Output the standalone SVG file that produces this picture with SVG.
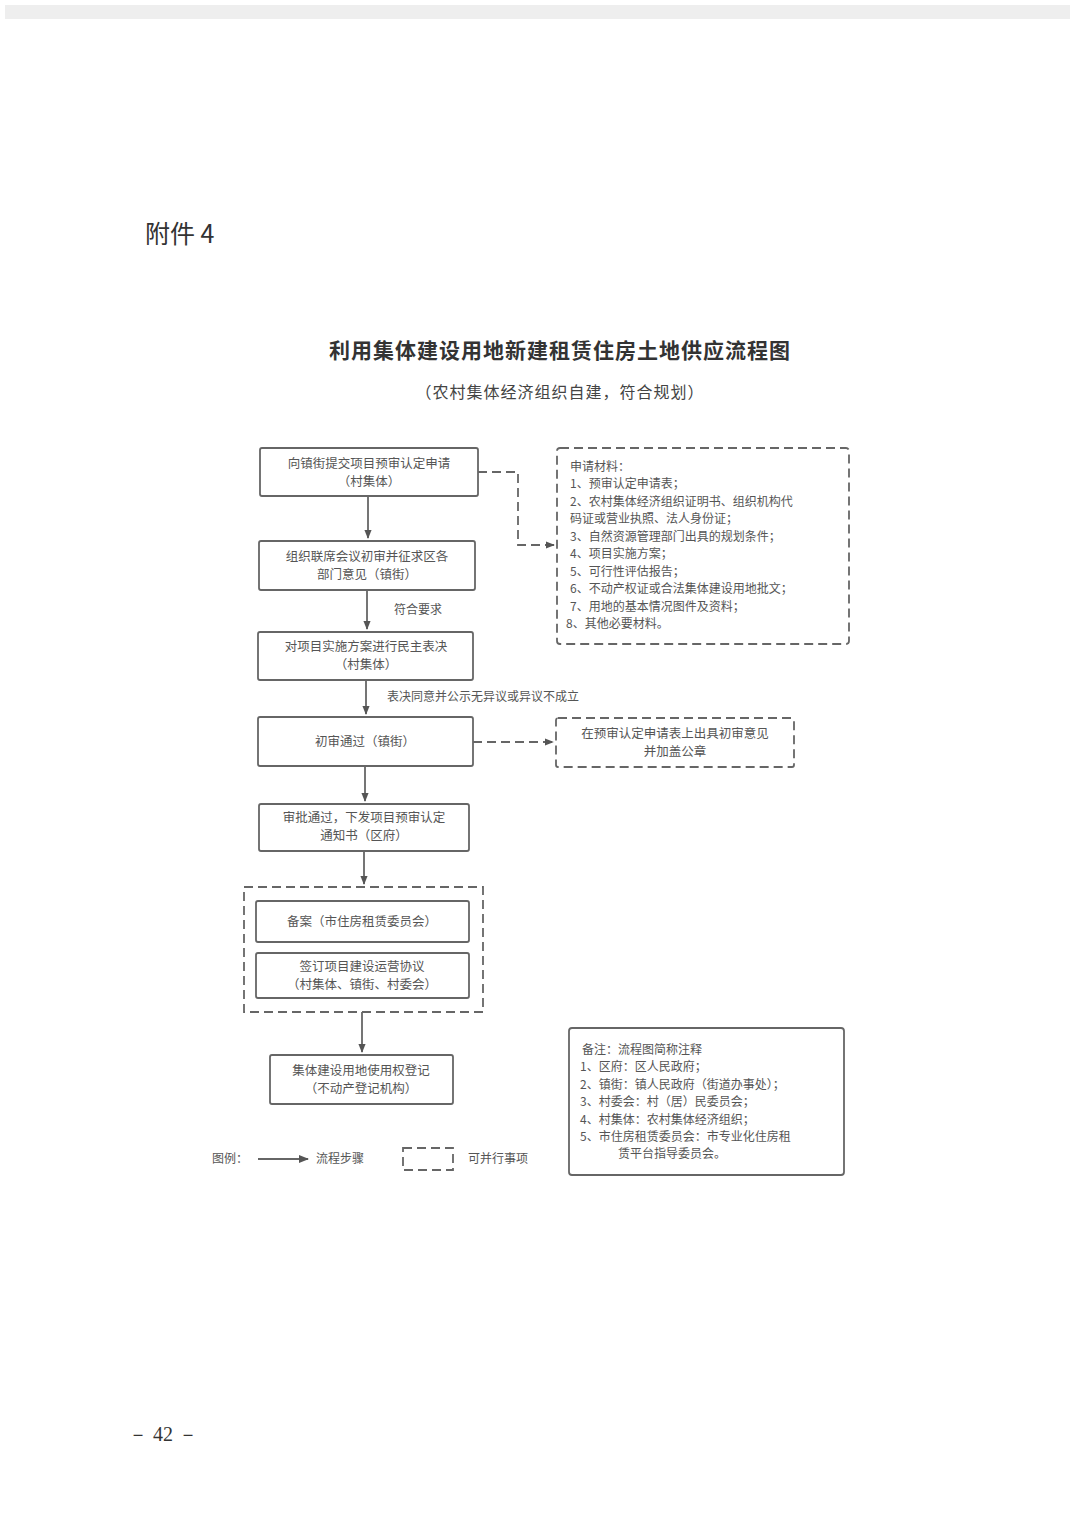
<svg xmlns="http://www.w3.org/2000/svg" width="1080" height="1528" viewBox="0 0 1080 1528">
<defs>
<marker id="ar" viewBox="0 0 10 10" refX="9" refY="5" markerWidth="9" markerHeight="9" orient="auto" markerUnits="userSpaceOnUse"><path d="M0,1 L10,5 L0,9 z" fill="#555"/></marker>
<marker id="ar2" viewBox="0 0 10 10" refX="9" refY="5" markerWidth="14" markerHeight="10" orient="auto" markerUnits="userSpaceOnUse"><path d="M0,1 L10,5 L0,9 z" fill="#555"/></marker>
</defs>
<style>
text{font-family:"Noto Sans CJK SC","Liberation Sans",sans-serif;fill:#555}
.t{font-size:12.5px;text-anchor:middle}
.l{font-size:12px}
.b{fill:#fff;stroke:#666;stroke-width:1.8}
.d{fill:none;stroke:#666;stroke-width:1.8;stroke-dasharray:9,5}
.c{fill:none;stroke:#666;stroke-width:1.8}
</style>
<rect width="1080" height="1528" fill="#fff"/>
<rect x="5" y="5" width="1065" height="14" fill="#eee"/>
<text x="145" y="243" style="font-size:25px;fill:#333">附件 4</text>
<text x="560" y="358" style="font-size:21px;font-weight:bold;text-anchor:middle;fill:#333;letter-spacing:1px">利用集体建设用地新建租赁住房土地供应流程图</text>
<text x="560" y="398" style="font-size:16px;text-anchor:middle;fill:#444;letter-spacing:1px">（农村集体经济组织自建，符合规划）</text>

<g id="connectors">
<path class="c" d="M368,496 V538" marker-end="url(#ar)"/>
<path class="c" d="M367,590 V629" marker-end="url(#ar)"/>
<path class="c" d="M366,680 V714" marker-end="url(#ar)"/>
<path class="c" d="M365,766 V801" marker-end="url(#ar)"/>
<path class="c" d="M364,851 V884" marker-end="url(#ar)"/>
<path class="c" d="M362,1012 V1052" marker-end="url(#ar)"/>
<path class="d" d="M478,472 H518 V545 H554" marker-end="url(#ar)"/>
<path class="d" d="M473,742 H553" marker-end="url(#ar)"/>
<text class="l" x="394" y="614">符合要求</text>
<text class="l" x="387" y="701">表决同意并公示无异议或异议不成立</text>
</g>

<g id="n1"><rect class="b" x="260" y="448" width="218" height="48" rx="2"/><text class="t" x="369" y="468">向镇街提交项目预审认定申请</text><text class="t" x="369" y="486">（村集体）</text></g>
<g id="n2"><rect class="b" x="259" y="541" width="216" height="49" rx="2"/><text class="t" x="367" y="561">组织联席会议初审并征求区各</text><text class="t" x="367" y="579">部门意见（镇街）</text></g>
<g id="n3"><rect class="b" x="258" y="632" width="215" height="48" rx="2"/><text class="t" x="366" y="651">对项目实施方案进行民主表决</text><text class="t" x="366" y="669">（村集体）</text></g>
<g id="n4"><rect class="b" x="258" y="717" width="215" height="49" rx="2"/><text class="t" x="365" y="746">初审通过（镇街）</text></g>
<g id="n5"><rect class="b" x="259" y="804" width="210" height="47" rx="2"/><text class="t" x="364" y="822">审批通过，下发项目预审认定</text><text class="t" x="364" y="840">通知书（区府）</text></g>
<g id="g1"><rect class="d" x="244" y="887" width="239" height="125"/>
<rect class="b" x="256" y="901" width="213" height="41" rx="2"/><text class="t" x="362" y="926">备案（市住房租赁委员会）</text>
<rect class="b" x="256" y="953" width="213" height="45" rx="2"/><text class="t" x="362" y="971">签订项目建设运营协议</text><text class="t" x="362" y="989">（村集体、镇街、村委会）</text></g>
<g id="n6"><rect class="b" x="270" y="1055" width="183" height="49" rx="2"/><text class="t" x="361" y="1075">集体建设用地使用权登记</text><text class="t" x="361" y="1093">（不动产登记机构）</text></g>

<g id="materials"><rect class="d" x="557" y="448" width="292" height="196" rx="3"/>
<text class="l" x="570" y="471">申请材料：</text>
<text class="l" x="570" y="488">1、预审认定申请表；</text>
<text class="l" x="570" y="506">2、农村集体经济组织证明书、组织机构代</text>
<text class="l" x="570" y="523">码证或营业执照、法人身份证；</text>
<text class="l" x="570" y="541">3、自然资源管理部门出具的规划条件；</text>
<text class="l" x="570" y="558">4、项目实施方案；</text>
<text class="l" x="570" y="576">5、可行性评估报告；</text>
<text class="l" x="570" y="593">6、不动产权证或合法集体建设用地批文；</text>
<text class="l" x="570" y="611">7、用地的基本情况图件及资料；</text>
<text class="l" x="566" y="628">8、其他必要材料。</text></g>
<g id="side"><rect class="d" x="556" y="718" width="238" height="49" rx="2"/><text class="t" x="675" y="738">在预审认定申请表上出具初审意见</text><text class="t" x="675" y="756">并加盖公章</text></g>
<g id="note"><rect class="b" x="569" y="1028" width="275" height="147" rx="3"/>
<text class="l" x="582" y="1054">备注：流程图简称注释</text>
<text class="l" x="580" y="1071">1、区府：区人民政府；</text>
<text class="l" x="580" y="1089">2、镇街：镇人民政府（街道办事处）；</text>
<text class="l" x="580" y="1106">3、村委会：村（居）民委员会；</text>
<text class="l" x="580" y="1124">4、村集体：农村集体经济组织；</text>
<text class="l" x="580" y="1141">5、市住房租赁委员会：市专业化住房租</text>
<text class="l" x="618" y="1158">赁平台指导委员会。</text></g>
<g id="legend">
<text class="l" x="212" y="1163">图例：</text>
<path class="c" d="M258,1159 H308" marker-end="url(#ar2)"/>
<text class="l" x="316" y="1163">流程步骤</text>
<rect class="d" x="403" y="1148" width="50" height="22"/>
<text class="l" x="468" y="1163">可并行事项</text></g>
<text x="128" y="1441" style="font-size:20px;fill:#333;font-family:'Liberation Serif',serif">－ 42 －</text>
</svg>
